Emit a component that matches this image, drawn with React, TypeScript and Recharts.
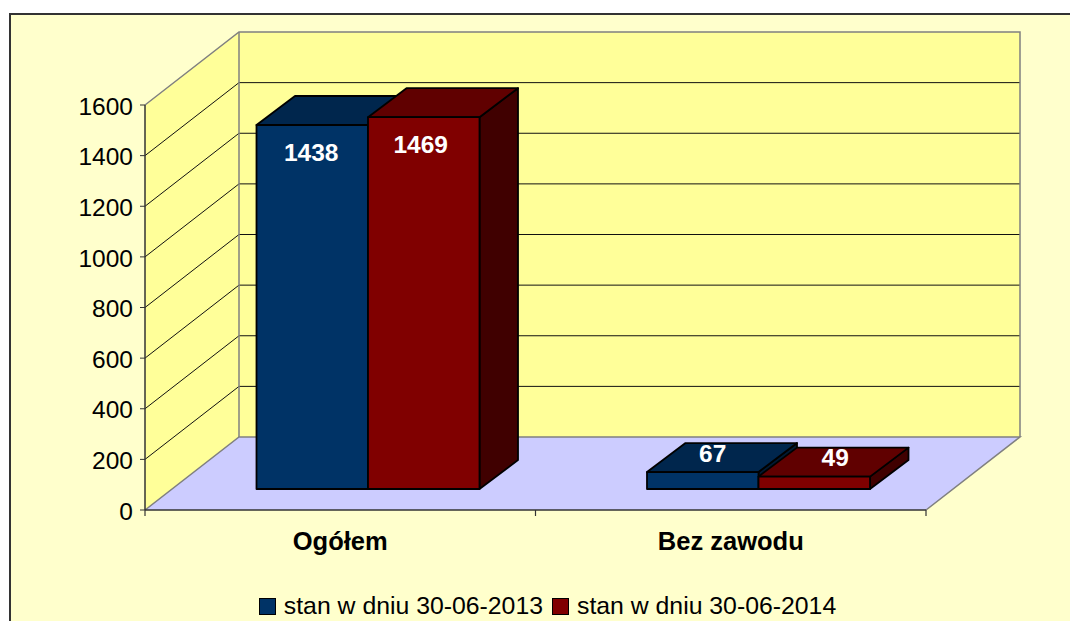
import { BarChart, Bar, XAxis, YAxis, Legend, LabelList, usePlotArea } from 'recharts';

const categories = ['Ogółem', 'Bez zawodu'];
const stan2013 = [1438, 67];
const stan2014 = [1469, 49];
const yTicks = [0, 200, 400, 600, 800, 1000, 1200, 1400, 1600];
const seriesNames = ['stan w dniu 30-06-2013', 'stan w dniu 30-06-2014'];

const chartData = categories.map((name, i) => ({
  name,
  y2013: stan2013[i],
  y2014: stan2014[i],
}));

const FONT = '"Liberation Sans", Arial, sans-serif';
const WALL_DX = 94;
const WALL_DY = 73;
// bars stand part way into the floor
const BAR_DX = 27.5;
const BAR_DY = 21;
const DEPTH_DX = 38.5;
const DEPTH_DY = 29;

const BLUE = { front: '#003366', top: '#00264d', side: '#001a33' };
const RED = { front: '#800000', top: '#600000', side: '#400000' };

function Walls() {
  const plot = usePlotArea();
  if (!plot) return null;
  const left = plot.x;
  const right = plot.x + plot.width;
  const bottom = plot.y + plot.height;
  const top = plot.y;
  const max = yTicks[yTicks.length - 1];
  const yOf = (t: number) => bottom - (t / max) * plot.height;
  const backL = left + WALL_DX;
  const backR = right + WALL_DX;
  const bandEdges = categories.map((_, i) => left + ((i + 1) * plot.width) / categories.length);
  return (
    <g>
      <polygon
        points={`${left},${bottom} ${backL},${bottom - WALL_DY} ${backL},${top - WALL_DY} ${left},${top}`}
        fill="#ffff99"
      />
      <rect x={backL} y={top - WALL_DY} width={plot.width} height={plot.height} fill="#ffff99" />
      <polygon
        points={`${left},${bottom} ${right},${bottom} ${backR},${bottom - WALL_DY} ${backL},${bottom - WALL_DY}`}
        fill="#ccccff"
      />
      {yTicks.slice(1, -1).map((t) => (
        <polyline
          key={t}
          points={`${left},${yOf(t)} ${backL},${yOf(t) - WALL_DY} ${backR},${yOf(t) - WALL_DY}`}
          fill="none"
          stroke="#111"
          strokeWidth={1}
        />
      ))}
      <polyline
        points={`${left},${top} ${backL},${top - WALL_DY} ${backR},${top - WALL_DY} ${backR},${bottom - WALL_DY}`}
        fill="none"
        stroke="#808080"
        strokeWidth={1.5}
      />
      <line x1={backL} y1={top - WALL_DY} x2={backL} y2={bottom - WALL_DY} stroke="#808080" strokeWidth={1.5} />
      <polyline
        points={`${left},${bottom} ${backL},${bottom - WALL_DY} ${backR},${bottom - WALL_DY} ${right},${bottom}`}
        fill="none"
        stroke="#808080"
        strokeWidth={1.5}
      />
      {[left, ...bandEdges].map((x) => (
        <line key={x} x1={x} y1={bottom} x2={x} y2={bottom + 6} stroke="#333" strokeWidth={1.2} />
      ))}
    </g>
  );
}

function Box3D(props: any) {
  const { x, y, width, height, colors } = props;
  const l = x + BAR_DX;
  const r = l + width;
  const t = y - BAR_DY;
  const b = t + height;
  return (
    <g stroke="#000" strokeWidth={1.8} strokeLinejoin="round">
      <polygon
        points={`${r},${t} ${r + DEPTH_DX},${t - DEPTH_DY} ${r + DEPTH_DX},${b - DEPTH_DY} ${r},${b}`}
        fill={colors.side}
      />
      <polygon
        points={`${l},${t} ${l + DEPTH_DX},${t - DEPTH_DY} ${r + DEPTH_DX},${t - DEPTH_DY} ${r},${t}`}
        fill={colors.top}
      />
      <rect x={l} y={t} width={width} height={height} fill={colors.front} />
    </g>
  );
}

// tall bars carry the value on the front, flat ones on the top face
function valueLabel(tallShift: number, shortShift: number) {
  return function ValueLabel(props: any) {
    const { x, y, width, height, value } = props;
    const cx = x + BAR_DX + width / 2;
    const top = y - BAR_DY;
    const tall = height > 100;
    return (
      <text
        x={cx + (tall ? tallShift : shortShift)}
        y={tall ? top + 27 : top - 19}
        fill="#fff"
        fontFamily={FONT}
        fontSize={24.5}
        fontWeight="bold"
        textAnchor="middle"
        dominantBaseline="central"
      >
        {value}
      </text>
    );
  };
}

function LegendBox() {
  const colors = [BLUE.front, RED.front];
  return (
    <div
      style={{
        display: 'flex',
        justifyContent: 'center',
        alignItems: 'center',
        gap: 9,
        paddingLeft: 25,
        fontFamily: FONT,
        fontSize: 24.8,
        color: '#000',
        lineHeight: '30px',
        whiteSpace: 'nowrap',
      }}
    >
      {seriesNames.map((name, i) => (
        <span key={name} style={{ display: 'flex', alignItems: 'center', gap: 8 }}>
          <span
            style={{
              display: 'inline-block',
              width: 15,
              height: 15,
              background: colors[i],
              border: '1px solid #000',
            }}
          />
          {name}
        </span>
      ))}
    </div>
  );
}

export default function App() {
  return (
    <div style={{ position: 'fixed', left: 0, top: 0, width: 1070, height: 621, background: '#fff', overflow: 'hidden' }}>
      <div
        style={{
          position: 'absolute',
          left: 9,
          top: 13,
          width: 1070,
          height: 621,
          background: '#ffffcc',
          borderLeft: '2px solid #333',
          borderTop: '2px solid #333',
        }}
      />
      <div style={{ position: 'absolute', left: 0, top: 0 }}>
        <BarChart
          width={1070}
          height={621}
          data={chartData}
          margin={{ top: 105, right: 144, bottom: 41, left: 85 }}
          barGap={0}
          barSize={111.5}
        >
          <Walls />
          <XAxis
            dataKey="name"
            height={40}
            interval={0}
            axisLine={{ stroke: '#333', strokeWidth: 1.5 }}
            tickLine={false}
            tickMargin={16}
            tick={{ fill: '#000', fontFamily: FONT, fontSize: 25.5, fontWeight: 'bold' }}
          />
          <YAxis
            width={60}
            domain={[0, 1600]}
            ticks={yTicks}
            interval={0}
            axisLine={{ stroke: '#333', strokeWidth: 1.5 }}
            tickSize={5}
            tickLine={{ stroke: '#333' }}
            tickMargin={7}
            tick={{ fill: '#000', fontFamily: FONT, fontSize: 24.5, dy: 1 }}
          />
          <Bar
            dataKey="y2013"
            name={seriesNames[0]}
            fill={BLUE.front}
            isAnimationActive={false}
            shape={(p: any) => <Box3D {...p} colors={BLUE} />}
          >
            <LabelList dataKey="y2013" content={valueLabel(-1, 10)} />
          </Bar>
          <Bar
            dataKey="y2014"
            name={seriesNames[1]}
            fill={RED.front}
            isAnimationActive={false}
            shape={(p: any) => <Box3D {...p} colors={RED} />}
          >
            <LabelList dataKey="y2014" content={valueLabel(-3, 21)} />
          </Bar>
          <Legend
            verticalAlign="bottom"
            height={30}
            content={<LegendBox />}
            wrapperStyle={{ left: 0, width: 1070, bottom: 0, top: 591 }}
          />
        </BarChart>
      </div>
    </div>
  );
}
